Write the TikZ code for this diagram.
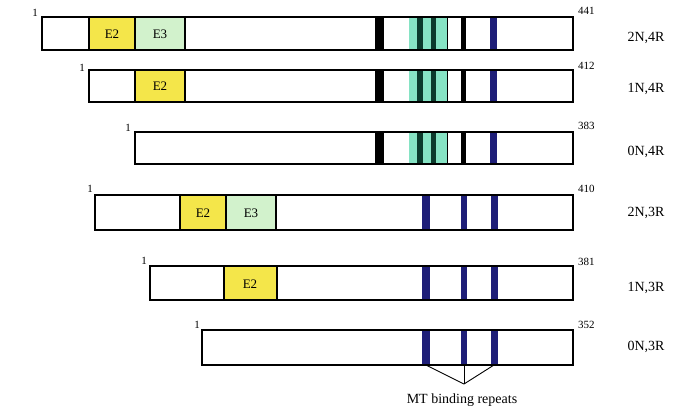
\documentclass[tikz,border=0pt]{standalone}
\usepackage{fontspec}
\setmainfont{Liberation Serif}
\definecolor{exyel}{HTML}{F4E64A}
\definecolor{exgrn}{HTML}{D2F2CC}
\definecolor{rpgrn}{HTML}{86E3C4}
\definecolor{rpdark}{HTML}{0B3A2C}
\definecolor{navy}{HTML}{1E1E78}
\tikzset{
  barbox/.style={draw=black,line width=2.6pt,fill=white},
  sep/.style={draw=black,line width=1.6pt},
  numlab/.style={font=\fontsize{11}{13}\selectfont,inner sep=0pt,anchor=west},
  isolab/.style={font=\fontsize{14}{16}\selectfont,inner sep=0pt},
  exlab/.style={font=\fontsize{13}{15}\selectfont,inner sep=0pt},
  onelab/.style={font=\fontsize{11}{13}\selectfont,inner sep=0pt},
  link/.style={draw=black,line width=0.9pt}
}
\newcommand{\fourR}[2]{%
  \fill[black] (375,#1) rectangle (384,#2);
  \fill[rpgrn] (409,#1) rectangle (447,#2);
  \fill[rpdark] (417,#1) rectangle (423,#2);
  \fill[rpdark] (431,#1) rectangle (436,#2);
  \draw[sep,line width=1pt] (447,#1) -- (447,#2);
  \fill[black] (461,#1) rectangle (466,#2);
  \fill[navy] (490,#1) rectangle (497,#2);
}
\newcommand{\threeR}[2]{%
  \fill[navy] (422,#1) rectangle (430,#2);
  \fill[navy] (461,#1) rectangle (467,#2);
  \fill[navy] (491,#1) rectangle (498,#2);
}
\begin{document}
\begin{tikzpicture}[x=1pt,y=-1pt]
\useasboundingbox (0,0) rectangle (679,413);
\fill[white] (0,0) rectangle (679,413);

% Row 1: 441
\fill[white] (42,17) rectangle (573,50);
\fill[exyel] (89,17) rectangle (135,50);
\fill[exgrn] (135,17) rectangle (185,50);
\node[exlab] (r1e2) at (112,34) {E2};
\node[exlab] (r1e3) at (160,34) {E3};
\fourR{17}{50}
\draw[sep] (89,17) -- (89,50) (135,17) -- (135,50) (185,17) -- (185,50);
\draw[barbox,fill=none] (42,17) rectangle (573,50);
\node[onelab] (r1s) at (35,13) {1};
\node[numlab] (r1n) at (578,11) {441};
\node[isolab] (r1l) at (646,38) {2N,4R};

% Row 2: 412
\fill[white] (89,70) rectangle (573,102);
\fill[exyel] (135,70) rectangle (185,102);
\node[exlab] (r2e2) at (160,86) {E2};
\fourR{70}{102}
\draw[sep] (135,70) -- (135,102) (185,70) -- (185,102);
\draw[barbox,fill=none] (89,70) rectangle (573,102);
\node[onelab] (r2s) at (82,68) {1};
\node[numlab] (r2n) at (578,66) {412};
\node[isolab] (r2l) at (646,89) {1N,4R};

% Row 3: 383
\fill[white] (135,132) rectangle (573,164);
\fourR{132}{164}
\draw[barbox,fill=none] (135,132) rectangle (573,164);
\node[onelab] (r3s) at (128,128) {1};
\node[numlab] (r3n) at (578,126) {383};
\node[isolab] (r3l) at (646,152) {0N,4R};

% Row 4: 410
\fill[white] (95,195) rectangle (573,230);
\fill[exyel] (180,195) rectangle (226,230);
\fill[exgrn] (226,195) rectangle (276,230);
\node[exlab] (r4e2) at (203,213) {E2};
\node[exlab] (r4e3) at (251,213) {E3};
\threeR{195}{230}
\draw[sep] (180,195) -- (180,230) (226,195) -- (226,230) (276,195) -- (276,230);
\draw[barbox,fill=none] (95,195) rectangle (573,230);
\node[onelab] (r4s) at (90,189) {1};
\node[numlab] (r4n) at (578,189) {410};
\node[isolab] (r4l) at (646,213) {2N,3R};

% Row 5: 381
\fill[white] (150,266) rectangle (573,300);
\fill[exyel] (224,266) rectangle (277,300);
\node[exlab] (r5e2) at (250,284) {E2};
\threeR{266}{300}
\draw[sep] (224,266) -- (224,300) (277,266) -- (277,300);
\draw[barbox,fill=none] (150,266) rectangle (573,300);
\node[onelab] (r5s) at (144,261) {1};
\node[numlab] (r5n) at (578,262) {381};
\node[isolab] (r5l) at (646,288) {1N,3R};

% Row 6: 352
\fill[white] (202,330) rectangle (573,365);
\threeR{330}{365}
\draw[barbox,fill=none] (202,330) rectangle (573,365);
\node[onelab] (r6s) at (197,325) {1};
\node[numlab] (r6n) at (578,325) {352};
\node[isolab] (r6l) at (646,347) {0N,3R};

% pointer to repeats
\coordinate (ra) at (426,365);
\coordinate (rb) at (464,365);
\coordinate (rc) at (494,365);
\coordinate (meet) at (464,384);
\draw[link] (ra) -- (meet);
\draw[link] (rb) -- (meet);
\draw[link] (rc) -- (meet);
\node[isolab] (rlab) at (462,400) {MT binding repeats};
\end{tikzpicture}
\end{document}
